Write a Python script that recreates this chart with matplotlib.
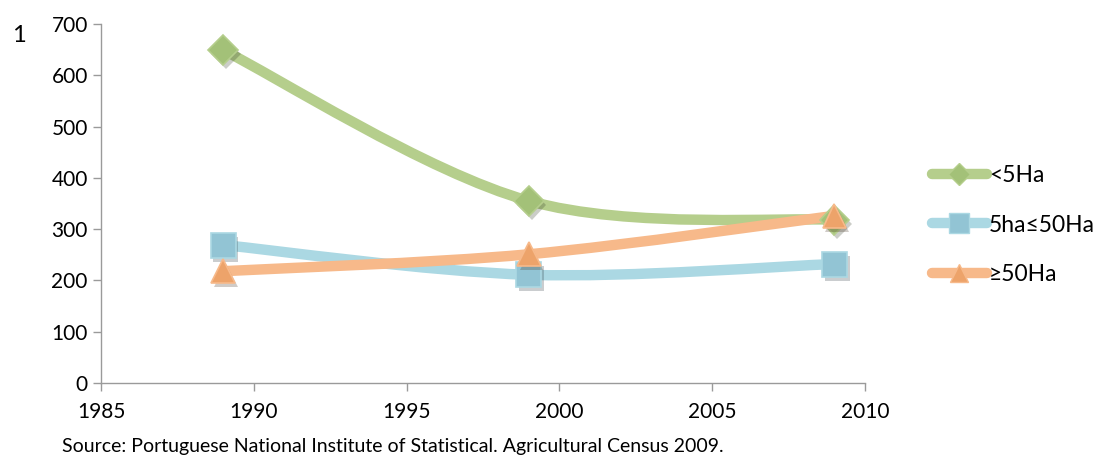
import numpy as np
import matplotlib.pyplot as plt
from matplotlib.path import Path
from matplotlib.patches import PathPatch
from matplotlib.lines import Line2D
import matplotlib.patheffects as pe

plt.rcParams['font.family'] = ['Lato', 'DejaVu Sans']

years = [1989, 1999, 2009]
small = [649, 355, 318]
medium = [269, 211, 232]
large = [218, 251, 326]
labels = ['<5Ha', '5ha\u226450Ha', '\u226550Ha']

line_colors = ['#B5CE8C', '#ABD8E3', '#F7B98A']
marker_colors = ['#A3C178', '#92C4D4', '#EDA36A']
markers = ['D', 's', '^']
msizes = [15, 18, 17]


def smooth_path(x, y):
    # Excel-like smoothed line: cubic Bezier through the points
    pts = np.column_stack([x, y]).astype(float)
    n = len(pts)
    verts = [pts[0]]
    codes = [Path.MOVETO]
    for i in range(n - 1):
        p0 = pts[max(i - 1, 0)]
        p1 = pts[i]
        p2 = pts[i + 1]
        p3 = pts[min(i + 2, n - 1)]
        c1 = p1 + (p2 - p0) / 6.0
        c2 = p2 - (p3 - p1) / 6.0
        verts += [c1, c2, p2]
        codes += [Path.CURVE4] * 3
    return Path(verts, codes)


fig = plt.figure(figsize=(11.01, 4.63), dpi=100)
ax = fig.add_axes([0.0917, 0.1728, 0.694, 0.7754])

shadow = [pe.SimplePatchShadow(offset=(2, -3), alpha=0.25), pe.Normal()]

handles = []
for vals, lc, mc, m, ms, lab in zip([small, medium, large], line_colors,
                                     marker_colors, markers, msizes, labels):
    patch = PathPatch(smooth_path(years, vals), facecolor='none', edgecolor=lc,
                      lw=7.5, capstyle='round', joinstyle='round', zorder=2)
    ax.add_patch(patch)
    ax.plot(years, vals, linestyle='none', marker=m, markersize=ms,
            markerfacecolor=mc, markeredgecolor=lc, markeredgewidth=1.2,
            zorder=3, path_effects=shadow)
    handles.append(Line2D([0], [0], color=lc, lw=7.5, solid_capstyle='round',
                          marker=m, markersize=ms - 4, markerfacecolor=mc,
                          markeredgecolor=lc, label=lab))

ax.set_xlim(1985, 2010)
ax.set_ylim(0, 700)
ax.set_xticks(range(1985, 2011, 5))
ax.set_yticks(range(0, 701, 100))

for s in ['top', 'right']:
    ax.spines[s].set_visible(False)
for s in ['left', 'bottom']:
    ax.spines[s].set_color('#9A9A9A')
    ax.spines[s].set_linewidth(1.0)
ax.tick_params(axis='both', direction='out', length=6, color='#9A9A9A',
               labelsize=15, labelcolor='black', width=1.0)
ax.tick_params(axis='x', pad=8)

fig.legend(handles=handles, loc='center left', bbox_to_anchor=(0.838, 0.514),
           frameon=False, fontsize=16.5, handlelength=2.4, handletextpad=0.1,
           labelspacing=1.24, borderaxespad=0)

fig.text(0.056, 0.018, 'Source: Portuguese National Institute of Statistical. Agricultural Census 2009.',
         fontsize=14, ha='left', va='bottom')
fig.text(0.011, 0.9, '1', fontsize=17, ha='left', va='bottom')

fig.savefig('out.png', dpi=100)
